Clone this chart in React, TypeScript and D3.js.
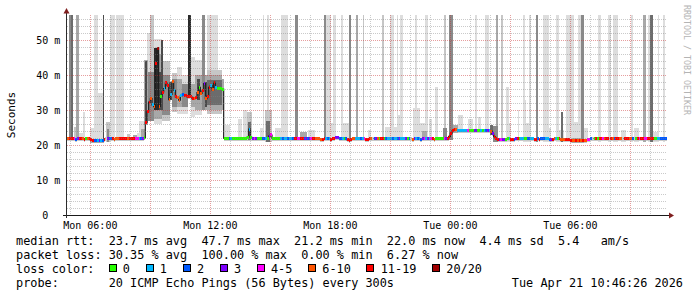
import React from 'react';
import * as d3 from 'd3';

// ---------- layout ----------
const W = 697;
const H = 297;
const PL = 67, PR = 667, PT = 15, PB = 215;
const Y_MAX = 57.24;
const START_MIN = 290; // Mon 04:50, minutes since Mon 00:00
const STEP_MIN = 5;
const END_MIN = START_MIN + 30 * 60;
const FULL = 99; // smoke reaching above the plot top

// ---------- axis text ----------
const yTickValues = [0, 10, 20, 30, 40, 50];
const yTickLabels = ['0', '10 m', '20 m', '30 m', '40 m', '50 m'];
const xLabelTimes = [360, 720, 1080, 1440, 1800];
const xLabelTexts = ['Mon 06:00', 'Mon 12:00', 'Mon 18:00', 'Tue 00:00', 'Tue 06:00'];

// ---------- median rtt (ms), one row per hour, 5-minute steps ----------
const medianRows: number[][] = [
  [21.8, 21.8, 21.9, 21.8, 21.8, 21.7, 21.8, 21.8, 21.9, 21.8, 21.7, 21.8],
  [21.8, 21.8, 21.5, 21.4, 21.3, 21.3, 21.2, 21.2, 21.3, 21.4, 21.5, 21.8],
  [21.8, 21.9, 21.8, 21.8, 21.7, 21.8, 21.8, 21.8, 21.9, 21.8, 21.8, 21.8],
  [21.8, 21.8, 21.9, 21.9, 21.8, 21.9, 21.9, 21.8, 21.9, 22.0, 22.1, 26.5],
  [29.5, 32.3, 33.3, 31.5, 31.0, 43.5, 47.7, 31.1, 34.0, 35.2, 36.2, 37.8],
  [37.0, 33.0, 34.5, 38.1, 35.7, 33.8, 33.5, 32.9, 34.1, 34.5, 34.3, 34.1],
  [33.8, 34.0, 33.8, 33.3, 33.3, 33.5, 35.0, 36.5, 34.8, 35.5, 37.6, 33.3],
  [34.0, 36.5, 37.0, 35.8, 38.0, 36.5, 36.2, 36.2, 36.2, 36.0, 21.9, 21.9],
  [21.9, 21.9, 21.8, 21.9, 21.9, 21.9, 21.9, 21.9, 21.9, 21.9, 21.9, 22.0],
  [22.3, 24.6, 22.2, 21.9, 22.0, 21.9, 21.9, 21.9, 21.9, 21.9, 21.8, 21.9],
  [21.9, 22.6, 22.9, 21.9, 21.9, 21.9, 21.9, 21.9, 21.9, 21.8, 21.8, 21.9],
  [21.9, 21.9, 21.9, 21.8, 21.8, 21.8, 21.9, 21.9, 21.8, 21.8, 21.9, 21.9],
  [21.9, 21.9, 21.9, 21.8, 21.8, 21.8, 21.9, 21.8, 21.6, 21.7, 21.8, 21.9],
  [21.9, 21.9, 21.7, 21.8, 21.9, 22.1, 22.2, 21.9, 21.9, 21.9, 21.9, 21.8],
  [21.5, 21.4, 21.7, 21.8, 21.8, 21.9, 21.9, 21.9, 21.9, 21.8, 21.8, 21.7],
  [21.7, 21.8, 21.8, 21.9, 21.9, 21.8, 21.8, 21.8, 21.8, 21.9, 21.9, 21.9],
  [21.9, 21.9, 21.9, 21.9, 21.9, 21.9, 21.9, 21.8, 21.8, 21.9, 21.9, 21.9],
  [21.9, 21.8, 21.8, 21.7, 21.8, 21.8, 21.9, 21.8, 21.7, 21.8, 21.8, 21.9],
  [21.9, 21.8, 21.8, 21.8, 21.7, 21.9, 21.9, 21.9, 21.9, 21.9, 21.8, 21.8],
  [21.9, 22.5, 23.4, 24.1, 24.5, 24.4, 24.3, 24.3, 24.3, 24.3, 24.3, 24.3],
  [24.3, 24.2, 24.1, 24.1, 24.2, 24.2, 24.2, 24.2, 24.3, 24.3, 24.2, 24.2],
  [24.2, 24.2, 24.0, 23.2, 22.4, 21.9, 21.6, 21.5, 21.5, 21.6, 21.6, 21.7],
  [21.8, 21.8, 21.7, 21.7, 21.7, 21.8, 21.8, 21.8, 21.8, 21.8, 21.8, 21.9],
  [21.8, 21.8, 21.8, 21.8, 21.7, 21.7, 21.8, 21.7, 21.8, 21.8, 21.8, 21.8],
  [21.8, 21.7, 21.7, 21.7, 21.8, 21.8, 21.8, 21.8, 21.7, 21.7, 21.7, 21.6],
  [21.5, 21.5, 21.4, 21.3, 21.3, 21.2, 21.3, 21.2, 21.3, 21.3, 21.4, 21.4],
  [21.6, 21.7, 21.8, 21.9, 21.9, 21.8, 21.9, 21.8, 21.8, 21.9, 21.9, 21.9],
  [21.8, 21.9, 21.9, 21.9, 21.8, 21.8, 21.9, 21.9, 21.9, 21.9, 21.9, 21.9],
  [21.8, 21.9, 21.8, 21.9, 21.9, 21.9, 21.9, 21.8, 21.9, 21.9, 22.0, 22.0],
  [21.9, 21.9, 21.8, 21.8, 21.9, 21.9, 21.9, 21.9, 21.9, 21.9, 21.9, 22.0],
];

// ---------- loss bucket per step ('.' = no median) ----------
const lossRows: string[] = [
  '566642366560', '56662213126.', '322655566666', '566664412306',
  '665156750616', '651516551266', '666656505635', '661561000000',
  '021000000000', '010343000221', '034000001211', '211266446623',
  '234665555661', '216663322102', '666551112146', '665.23506602',
  '111211231113', '02.531212341', '314650000043', '666665111111',
  '400033001012', '315366634330', '016623601100', '221166262221',
  '123651065556', '666556565655', '442.06066456', '6.6526655.66',
  '6552.0646644', '666600112222',
];

const lossLabels = ['0', '1', '2', '3', '4-5', '6-10', '11-19', '20/20'];
const lossColors = ['#26ff00', '#00b8ff', '#0059ff', '#7e00ff', '#ff00ff', '#ff5500', '#ff0000', '#a10000'];

// ---------- smoke: [from min, to min, low ms, high ms, shade] ----------
const smokeShades = ['#dddddd', '#c6c6c6', '#a8a8a8', '#8a8a8a', '#6c6c6c', '#4a4a4a', '#2a2a2a'];
const smoke: [number, number, number, number, number][] = [
  [295, 301, 21.5, FULL, 3], [301, 307, 21.5, FULL, 4], [310, 317, 21.5, 25.2, 1],
  [317, 325, 21.5, FULL, 2], [326, 340, 21.4, 23.4, 0], [338, 344, 21.4, 29.5, 0],
  [359, 371, 21.0, 25.0, 0], [371, 384, 21.0, FULL, 0], [384, 398, 21.0, 35.0, 0],
  [398, 401, 21.0, FULL, 5], [406, 418, 21.0, 26.7, 1], [410, 416, 21.0, 24.5, 3],
  [419, 434, 21.4, FULL, 0], [437, 461, 21.4, FULL, 0], [470, 480, 21.4, 23.2, 1],
  [488, 500, 21.4, 22.8, 2], [500, 515, 21.4, 23.5, 0], [506, 524, 21.4, 27.0, 0],
  [512, 524, 21.4, 24.5, 2], [359, 401, 20.6, 21.6, 2],
  // busy period
  [520, 533, 25.7, 44.3, 2], [525, 531, 26.0, 44.0, 5], [531, 540, 28.0, 52.0, 0],
  [533, 550, 27.0, 41.0, 3], [540, 550, 27.0, FULL, 1], [550, 575, 26.0, 50.5, 0],
  [550, 575, 27.5, 46.0, 2], [550, 565, 30.0, 47.7, 6], [565, 575, 30.0, 41.0, 5],
  [571, 579, 30.0, 50.0, 5], [575, 600, 27.0, 44.0, 1], [575, 600, 28.5, 40.0, 3],
  [595, 605, 33.0, 38.0, 5], [605, 620, 29.5, 40.5, 1], [605, 620, 31.0, 39.0, 3],
  [620, 635, 29.0, 42.4, 0], [620, 635, 31.0, 39.0, 2], [635, 653, 29.0, 40.0, 0],
  [635, 653, 31.0, 37.5, 3], [653, 661, 33.4, FULL, 6], [661, 675, 28.0, 45.2, 0],
  [661, 675, 31.0, 37.5, 2], [675, 695, 28.5, 44.3, 0], [675, 695, 30.0, 40.0, 2],
  [680, 690, 33.0, 39.0, 5], [695, 703, 30.0, FULL, 3], [703, 711, 30.0, 40.0, 2],
  [703, 711, 31.0, 38.0, 5], [711, 744, 30.0, FULL, 0], [711, 754, 29.0, 41.4, 1],
  [711, 754, 30.0, 40.0, 2], [711, 754, 31.5, 38.5, 4], [754, 761, 30.0, 39.0, 2],
  // Monday afternoon / evening
  [764, 779, 21.4, 25.7, 0], [804, 814, 21.4, 27.6, 0], [819, 829, 21.4, 30.0, 0],
  [829, 844, 21.2, 29.5, 1], [832, 842, 21.4, 26.5, 4], [869, 879, 21.4, 25.0, 0],
  [877, 881, 21.4, FULL, 0], [884, 904, 20.8, 30.0, 1], [887, 900, 21.0, 27.0, 4],
  [891, 895, 21.4, FULL, 0], [914, 953, 21.5, 24.8, 0], [931, 954, 21.5, FULL, 0],
  [975, 982, 21.5, FULL, 3], [989, 1009, 21.4, 23.8, 2], [1014, 1034, 21.4, 24.3, 0],
  [1061, 1067, 21.4, FULL, 3], [1067, 1081, 21.4, FULL, 0], [1069, 1094, 21.4, 26.2, 0],
  [1087, 1097, 21.4, FULL, 0], [1112, 1119, 21.4, FULL, 0], [1119, 1137, 21.4, 26.2, 0],
  [1135, 1141, 21.4, FULL, 3], [1157, 1163, 21.4, FULL, 2], [1177, 1181, 21.4, FULL, 1],
  [1193, 1203, 21.4, 24.3, 0], [1235, 1241, 21.4, FULL, 1], [1243, 1283, 21.4, 25.2, 0],
  [1258, 1271, 21.4, FULL, 0], [1279, 1284, 21.4, FULL, 0], [1283, 1298, 21.4, 28.6, 0],
  [1288, 1298, 21.4, FULL, 0], [1328, 1348, 21.4, 30.5, 0], [1335, 1341, 21.4, FULL, 0],
  [1348, 1373, 21.4, 26.2, 0], [1355, 1370, 21.4, 24.0, 2], [1363, 1373, 21.4, FULL, 0],
  [1376, 1386, 21.4, 27.6, 0], [1395, 1403, 21.4, 36.7, 0], [1421, 1428, 21.4, FULL, 1],
  [1418, 1430, 21.4, 24.9, 3],
  // Tuesday
  [1436, 1448, 21.4, FULL, 3], [1448, 1463, 23.5, 25.7, 2], [1463, 1478, 23.5, 28.6, 0],
  [1493, 1508, 23.5, 27.6, 0], [1513, 1521, 23.5, FULL, 0], [1523, 1533, 23.5, 28.0, 0],
  [1545, 1555, 23.5, FULL, 0], [1558, 1568, 23.0, 25.7, 4], [1568, 1583, 21.0, 25.5, 3],
  [1576, 1583, 21.0, FULL, 2], [1591, 1599, 21.0, FULL, 1], [1607, 1615, 21.0, 36.7, 0],
  [1607, 1622, 21.0, 26.2, 0], [1642, 1647, 21.0, 30.0, 0], [1657, 1664, 21.0, FULL, 0],
  [1659, 1667, 21.0, 32.9, 0], [1665, 1677, 21.0, 26.2, 0], [1677, 1682, 21.0, FULL, 0],
  [1696, 1703, 21.0, FULL, 3], [1717, 1737, 21.0, FULL, 0], [1735, 1742, 21.0, 25.0, 0],
  [1757, 1765, 21.0, FULL, 0], [1766, 1780, 21.0, 24.3, 0], [1772, 1779, 21.0, 29.5, 4],
  [1787, 1812, 21.0, FULL, 0], [1802, 1837, 20.5, 26.7, 0], [1805, 1840, 20.5, 22.0, 2],
  [1822, 1832, 21.0, FULL, 0], [1831, 1842, 21.0, FULL, 3], [1842, 1852, 21.0, 24.8, 0],
  [1882, 1892, 21.0, FULL, 0], [1912, 1922, 21.0, FULL, 0], [1927, 1943, 21.0, FULL, 0],
  [1952, 1967, 21.0, 24.3, 0], [1982, 1989, 21.0, FULL, 0], [1992, 2007, 21.0, 24.8, 0],
  [2017, 2027, 21.0, FULL, 2], [2032, 2039, 21.0, FULL, 0], [2040, 2049, 21.0, FULL, 4],
  [2047, 2062, 21.0, 23.8, 0], [2062, 2067, 21.0, FULL, 0], [2079, 2085, 21.0, FULL, 0],
];

// ---------- legend text ----------
const legendRtt = 'median rtt:  23.7 ms avg  47.7 ms max  21.2 ms min  22.0 ms now  4.4 ms sd  5.4   am/s';
const legendLoss = 'packet loss: 30.35 % avg  100.00 % max  0.00 % min  6.27 % now';
const legendLossTitle = 'loss color:';
const legendProbe = 'probe:       20 ICMP Echo Pings (56 Bytes) every 300s';
const legendDate = 'Tue Apr 21 10:46:26 2026';
const yAxisTitle = 'Seconds';
const watermark = 'RRDTOOL / TOBI OETIKER';

const MONO = "'DejaVu Sans Mono', monospace";
const BAND_BELOW = 0.7;
const BAND_ABOVE = 0.45;

type Sample = { t0: number; t1: number; m: number; code: string };

export default function App() {
  const x = d3.scaleLinear().domain([START_MIN, END_MIN]).range([PL, PR]);
  const y = d3.scaleLinear().domain([0, Y_MAX]).range([PB, PT]);
  const yc = (v: number) => y(Math.min(v, Y_MAX));

  const med = medianRows.flat();
  const loss = lossRows.join('');
  const samples: Sample[] = med.map((m, i) => ({
    t0: START_MIN + i * STEP_MIN,
    t1: START_MIN + (i + 1) * STEP_MIN,
    m,
    code: loss[i] ?? '0',
  }));

  const sortedSmoke = [...smoke].sort((a, b) => a[4] - b[4]);
  const lightSmoke = sortedSmoke.filter((s) => s[4] <= 1);
  const darkSmoke = sortedSmoke.filter((s) => s[4] > 1);

  const linePts: [number, number, boolean][] = samples.map((s) => [s.t0, s.m, s.code !== '.']);
  const last = samples[samples.length - 1];
  linePts.push([last.t1, last.m, true]);
  const medLine = d3
    .line<[number, number, boolean]>()
    .defined((d) => d[2])
    .x((d) => x(d[0]))
    .y((d) => y(d[1]))
    .curve(d3.curveStepAfter)(linePts);

  const rectFor = (t0: number, t1: number, lo: number, hi: number) => {
    const x0 = Math.round(x(t0));
    const x1 = Math.max(Math.round(x(t1)), x0 + 1);
    const y0 = Math.round(yc(hi));
    const y1 = Math.round(yc(lo));
    return { x: x0, y: y0, width: x1 - x0, height: Math.max(1, y1 - y0) };
  };

  // grid
  const hourTimes = d3.range(300, END_MIN, 60);
  const minorV = hourTimes.filter((t) => t % 180 !== 0);
  const majorV = hourTimes.filter((t) => t % 180 === 0);
  const minorH = d3.range(2, Y_MAX, 2).filter((v) => v % 10 !== 0);
  const majorH = [10, 20, 30, 40, 50];
  const gridMinor = 'rgba(128,128,128,0.42)';
  const gridMajor = 'rgba(200,40,40,0.45)';

  // legend boxes
  const boxX: number[] = [];
  let bx = 108.5;
  lossLabels.forEach((l) => {
    boxX.push(bx);
    bx += 29.9 + 7.14 * l.length;
  });

  return (
    <svg
      width={W}
      height={H}
      viewBox={`0 0 ${W} ${H}`}
      style={{ position: 'absolute', left: 0, top: 0, background: '#ffffff' }}
      fontFamily={MONO}
    >
      <rect x={0} y={0} width={W} height={H} fill="#ffffff" />

      {/* smoke (light layers) */}
      <g shapeRendering="crispEdges">
        {lightSmoke.map((s, i) => (
          <rect key={`ls${i}`} {...rectFor(s[0], s[1], s[2], s[3])} fill={smokeShades[s[4]]} />
        ))}
        {samples.map((s, i) => (
          <rect key={`b${i}`} {...rectFor(s.t0, s.t1, s.m - BAND_BELOW, s.m + BAND_ABOVE)} fill="#c9c9c9" />
        ))}
        {darkSmoke.map((s, i) => (
          <rect key={`ds${i}`} {...rectFor(s[0], s[1], s[2], s[3])} fill={smokeShades[s[4]]} />
        ))}
      </g>

      {/* median connector */}
      <path d={medLine ?? ''} fill="none" stroke="#1e1e1e" strokeWidth={1.2} />

      {/* median coloured by loss */}
      <g shapeRendering="crispEdges">
        {samples
          .filter((s) => s.code !== '.')
          .map((s, i) => {
            const x0 = Math.round(x(s.t0));
            const x1 = Math.max(Math.round(x(s.t1)), x0 + 1);
            const yy = y(s.m);
            return (
              <rect
                key={`m${i}`}
                x={x0}
                y={Math.round(yy - 1.5)}
                width={x1 - x0}
                height={3}
                fill={lossColors[+s.code]}
              />
            );
          })}
      </g>

      {/* grid */}
      <g shapeRendering="crispEdges" strokeWidth={1} strokeDasharray="1,1">
        {minorH.map((v) => (
          <line key={`mh${v}`} x1={PL} x2={PR} y1={Math.round(y(v)) + 0.5} y2={Math.round(y(v)) + 0.5} stroke={gridMinor} />
        ))}
        {minorV.map((t) => (
          <line key={`mv${t}`} x1={Math.round(x(t)) + 0.5} x2={Math.round(x(t)) + 0.5} y1={PT} y2={PB} stroke={gridMinor} />
        ))}
        {majorH.map((v) => (
          <line key={`Mh${v}`} x1={PL} x2={PR} y1={Math.round(y(v)) + 0.5} y2={Math.round(y(v)) + 0.5} stroke={gridMajor} />
        ))}
        {majorV.map((t) => (
          <line key={`Mv${t}`} x1={Math.round(x(t)) + 0.5} x2={Math.round(x(t)) + 0.5} y1={PT} y2={PB} stroke={gridMajor} />
        ))}
      </g>

      {/* axes */}
      <g shapeRendering="crispEdges">
        <line x1={63} x2={670} y1={PB + 0.5} y2={PB + 0.5} stroke="#1a1a1a" />
        <line x1={PL - 0.5} x2={PL - 0.5} y1={PB + 3} y2={12} stroke="#2c2c2c" />
      </g>
      <polygon points={`${PL - 0.5},8 ${PL - 3.5},13.5 ${PL + 2.5},13.5`} fill="#7f1f1f" />
      <polygon points={`674,${PB + 0.5} 669,${PB - 2.5} 669,${PB + 3.5}`} fill="#7f1f1f" />

      {/* y tick labels */}
      {yTickValues.map((v, i) => (
        <text
          key={`yl${v}`}
          x={v === 0 ? 48.3 : 60.3}
          y={y(v) + 3.6}
          fontSize={10}
          textAnchor="end"
          fill="#000"
        >
          {yTickLabels[i]}
        </text>
      ))}

      {/* x tick labels */}
      {xLabelTimes.map((t, i) => (
        <text key={`xl${t}`} x={x(t)} y={228.5} fontSize={10} textAnchor="middle" fill="#000">
          {xLabelTexts[i]}
        </text>
      ))}

      {/* axis title */}
      <text transform="translate(15,115) rotate(-90)" fontSize={11} textAnchor="middle" fill="#000">
        {yAxisTitle}
      </text>

      {/* watermark */}
      <text transform="translate(684,5) rotate(90)" fontSize={8.3} fill="#b4b4b4">
        {watermark}
      </text>

      {/* legend */}
      <g fontSize={11.85} fill="#000" style={{ whiteSpace: 'pre' }}>
        <text x={16} y={244.6} xmlSpace="preserve">{legendRtt}</text>
        <text x={16} y={258.6} xmlSpace="preserve">{legendLoss}</text>
        <text x={16} y={272.6} xmlSpace="preserve">{legendLossTitle}</text>
        {lossLabels.map((l, i) => (
          <g key={`lg${i}`}>
            <rect
              x={Math.round(boxX[i]) + 0.5}
              y={264.5}
              width={7}
              height={7}
              fill={lossColors[i]}
              stroke="#000"
              strokeWidth={1}
              shapeRendering="crispEdges"
            />
            <text x={boxX[i] + 14.3} y={272.6}>{l}</text>
          </g>
        ))}
        <text x={16} y={286.6} xmlSpace="preserve">{legendProbe}</text>
        <text x={683} y={286.6} textAnchor="end">{legendDate}</text>
      </g>
    </svg>
  );
}
